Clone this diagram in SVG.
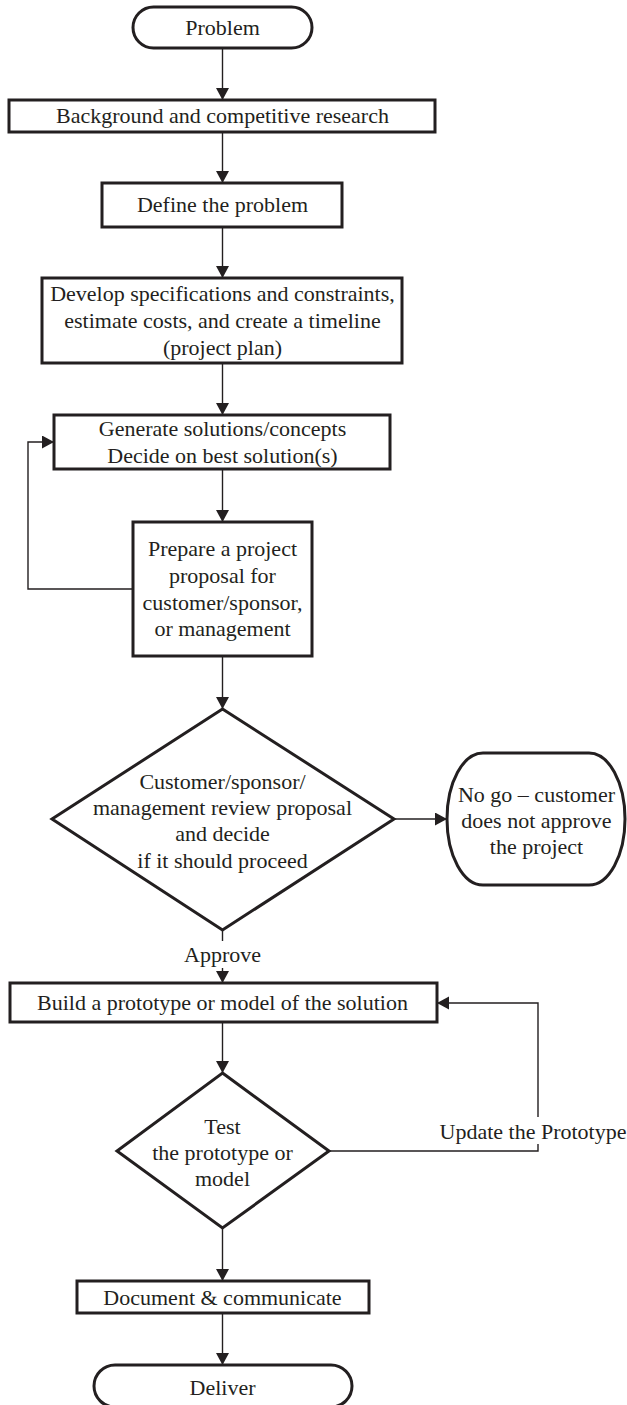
<svg xmlns="http://www.w3.org/2000/svg" width="627" height="1405" viewBox="0 0 627 1405">
<style>
.box{fill:#fff;stroke:#231f20;stroke-width:3}
.t{font-family:"Liberation Serif","Times New Roman",serif;font-size:22px;fill:#231f20;text-anchor:middle}
.c{fill:none;stroke:#231f20;stroke-width:1.4}
.a{fill:none;stroke:#231f20;stroke-width:1.4;marker-end:url(#ah)}
</style>
<defs>
<marker id="ah" markerUnits="userSpaceOnUse" markerWidth="13" markerHeight="14" refX="12" refY="6.5" orient="auto">
<path d="M0,0 L12,6.5 L0,13 z" fill="#231f20"/>
</marker>
</defs>
<rect width="627" height="1405" fill="#fff"/>
<g id="connectors">
<line class="a" x1="222.5" y1="48" x2="222.5" y2="100"/>
<line class="a" x1="222.5" y1="132" x2="222.5" y2="183"/>
<line class="a" x1="222.5" y1="227" x2="222.5" y2="278"/>
<line class="a" x1="222.5" y1="363" x2="222.5" y2="415"/>
<line class="a" x1="222.5" y1="469" x2="222.5" y2="522"/>
<polyline class="a" points="133,589 28,589 28,442 54,442"/>
<line class="a" x1="222.5" y1="656" x2="222.5" y2="709"/>
<line class="a" x1="394" y1="819" x2="447" y2="819"/>
<line class="c" x1="222.5" y1="930" x2="222.5" y2="941"/>
<line class="a" x1="222.5" y1="968" x2="222.5" y2="983"/>
<line class="a" x1="222.5" y1="1022" x2="222.5" y2="1073"/>
<polyline class="c" points="329,1151 538,1151 538,1144"/>
<polyline class="a" points="538,1117 538,1003 437,1003"/>
<line class="a" x1="222.5" y1="1228" x2="222.5" y2="1281"/>
<line class="a" x1="222.5" y1="1313" x2="222.5" y2="1365"/>
<text class="t" x="222.5" y="962">Approve</text>
<text class="t" x="533" y="1139">Update the Prototype</text>
</g>
<g id="problem">
<rect class="box" x="133" y="7" width="179" height="41" rx="20.5"/>
<text class="t" x="222.5" y="35">Problem</text>
</g>
<g id="background">
<rect class="box" x="9" y="100" width="426" height="32"/>
<text class="t" x="222.5" y="123">Background and competitive research</text>
</g>
<g id="define">
<rect class="box" x="102" y="183" width="240" height="44"/>
<text class="t" x="222.5" y="212">Define the problem</text>
</g>
<g id="develop">
<rect class="box" x="42" y="278" width="360" height="85"/>
<text class="t" x="222.5" y="301">Develop specifications and constraints,</text>
<text class="t" x="222.5" y="328">estimate costs, and create a timeline</text>
<text class="t" x="222.5" y="355">(project plan)</text>
</g>
<g id="generate">
<rect class="box" x="54" y="415" width="336" height="54"/>
<text class="t" x="222.5" y="436">Generate solutions/concepts</text>
<text class="t" x="222.5" y="463">Decide on best solution(s)</text>
</g>
<g id="prepare">
<rect class="box" x="133" y="522" width="179" height="134"/>
<text class="t" x="222.5" y="556">Prepare a project</text>
<text class="t" x="222.5" y="583">proposal for</text>
<text class="t" x="222.5" y="610">customer/sponsor,</text>
<text class="t" x="222.5" y="636">or management</text>
</g>
<g id="review">
<polygon class="box" points="222.5,709 394,819 222.5,930 52,819"/>
<text class="t" x="222.5" y="789">Customer/sponsor/</text>
<text class="t" x="222.5" y="815">management review proposal</text>
<text class="t" x="222.5" y="841">and decide</text>
<text class="t" x="222.5" y="868">if it should proceed</text>
</g>
<g id="nogo">
<rect class="box" x="447" y="753" width="178" height="132" rx="36" ry="66"/>
<text class="t" x="536.5" y="802">No go – customer</text>
<text class="t" x="536.5" y="828">does not approve</text>
<text class="t" x="536.5" y="854">the project</text>
</g>
<g id="build">
<rect class="box" x="10" y="983" width="427" height="39"/>
<text class="t" x="222.5" y="1010">Build a prototype or model of the solution</text>
</g>
<g id="test">
<polygon class="box" points="222.5,1073 329,1151 222.5,1228 117,1151"/>
<text class="t" x="222.5" y="1134">Test</text>
<text class="t" x="222.5" y="1160">the prototype or</text>
<text class="t" x="222.5" y="1186">model</text>
</g>
<g id="document">
<rect class="box" x="77" y="1281" width="292" height="32"/>
<text class="t" x="222.5" y="1305">Document &amp; communicate</text>
</g>
<g id="deliver">
<rect class="box" x="94" y="1365" width="258" height="42" rx="21"/>
<text class="t" x="222.5" y="1395">Deliver</text>
</g>
</svg>
